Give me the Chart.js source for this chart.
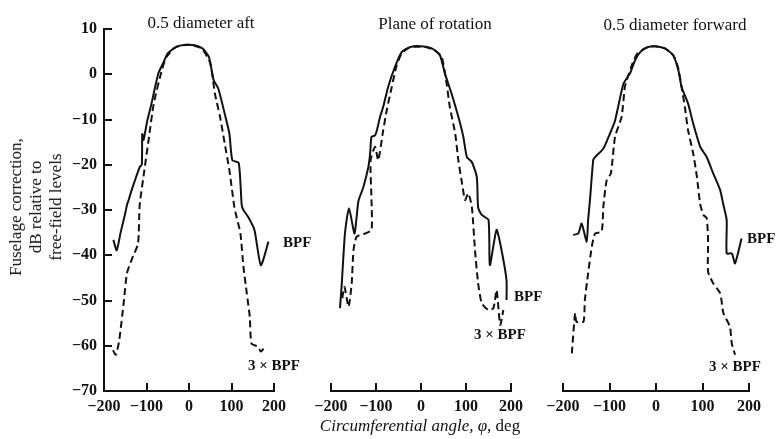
<!DOCTYPE html>
<html><head><meta charset="utf-8">
<script src="https://cdn.jsdelivr.net/npm/chart.js@4.4.1/dist/chart.umd.min.js"></script>
<style>
html,body{margin:0;padding:0;background:#fff;}
#wrap{position:relative;width:779px;height:439px;overflow:hidden;background:#fff;font-family:'Liberation Serif','DejaVu Serif',serif;color:#111;}
canvas{position:absolute;top:0;}
.t{position:absolute;white-space:nowrap;line-height:1;}
.title{font-size:17px;transform:translate(-50%,-50%);}
.ann{font-size:15px;font-weight:bold;transform:translateY(-50%);}
</style></head><body>
<div id="wrap">
<canvas id="c1" width="300" height="439" style="left:0px"></canvas>
<canvas id="c2" width="260" height="439" style="left:290px"></canvas>
<canvas id="c3" width="249" height="439" style="left:530px"></canvas>

<div class="t title" style="left:201px;top:22px">0.5 diameter aft</div>
<div class="t title" style="left:435px;top:23px">Plane of rotation</div>
<div class="t title" style="left:675px;top:24px">0.5 diameter forward</div>

<div class="t ann" style="left:283px;top:242px">BPF</div>
<div class="t ann" style="left:248px;top:365px">3 × BPF</div>
<div class="t ann" style="left:514px;top:296px">BPF</div>
<div class="t ann" style="left:474px;top:334px">3 × BPF</div>
<div class="t ann" style="left:747px;top:238px">BPF</div>
<div class="t ann" style="left:709px;top:366px">3 × BPF</div>

<div class="t" style="left:36px;top:207px;transform:translate(-50%,-50%) rotate(-90deg);font-size:17px;line-height:20px;text-align:center;">Fuselage correction,<br>dB relative to<br>free-field levels</div>
<div class="t" style="left:420px;top:425px;transform:translate(-50%,-50%);font-size:17px;"><i>Circumferential angle,</i> <i>φ</i>, deg</div>
</div>
<script>
// ---- data (angle in deg, correction in dB) ----
const aftBpfAngle = [-178,-170,-161,-150,-146,-142,-135,-116,-111,-110,-107,-98,-90,-72,-61,-50,-31,-9,13,32,47,58,69,84,95,102,117,124,128,139,154,169,187];
const aftBpfDb    = [-36.6,-38.9,-35,-30.7,-28.9,-27.8,-25.6,-20.5,-20,-13.2,-14.5,-10.2,-7.2,0.2,2.4,4.6,6.0,6.5,6.4,5.7,3.8,-1.3,-3.2,-8.7,-13.1,-19,-19.6,-28.9,-30,-31.5,-34.4,-42.2,-37];
const aft3Angle = [-179,-172,-164,-153,-146,-135,-120,-116,-105,-94,-83,-64,-53,-31,0,30,50,61,73,84,95,106,110,121,128,136,143,147,162,169,176];
const aft3Db    = [-61,-62,-58.7,-49.9,-44,-41,-37.4,-28.9,-21.2,-13.8,-6.5,0.9,3.8,6.0,6.5,5.7,2.4,-4.3,-9.4,-15.3,-21.2,-28.9,-30.8,-35.2,-42.5,-48.4,-53.6,-59.5,-60.2,-61.3,-60.6];

const planeBpfAngle = [-180,-176,-169,-160,-148,-143,-139,-128,-117,-113,-110,-102,-98,-91,-84,-73,-58,-43,-24,-2,24,42,53,68,83,94,102,113,124,127,135,150,153,168,179,190,190];
const planeBpfDb    = [-51.7,-46.2,-35.2,-29.6,-35.2,-31.5,-28,-24.9,-20.5,-17.5,-13.8,-13.5,-12.4,-9.4,-7.2,-2.8,1.6,4.9,6.0,6.2,5.7,4.2,0.2,-4.3,-9.4,-13.8,-18.3,-19.4,-22.7,-29.5,-31.1,-32.2,-42.2,-34.4,-38.9,-45.5,-49.9];
const plane3Angle = [-175,-170,-161,-154,-150,-143,-124,-110,-110,-112,-102,-95,-84,-76,-65,-54,-43,-24,9,31,46,57,64,76,83,90,98,105,113,120,127,135,150,161,168,176,183];
const plane3Db    = [-49.5,-47,-51.4,-46.2,-38.9,-35.9,-35.2,-34.4,-27.8,-19,-16,-19,-12.4,-7.9,-2.8,2.0,4.6,6.0,6.0,5.3,3.8,-2.1,-7.2,-13.1,-19,-23.4,-27.8,-26.3,-29.3,-38.9,-46.2,-50.6,-52.1,-51.7,-47.7,-55.4,-52.1];

const fwdBpfAngle = [-178,-167,-160,-149,-146,-142,-135,-131,-113,-99,-88,-70,-56,-45,-34,-20,-2,19,37,48,55,69,80,95,109,123,138,145,152,152,163,170,184];
const fwdBpfDb    = [-35.5,-35.2,-33,-37,-32.2,-27.8,-19,-18.3,-16.4,-13.1,-10.2,-2.1,0.2,3.1,4.9,5.9,6.2,5.7,4.2,0.9,-2.8,-6.5,-10.9,-16,-18.3,-21.9,-25.6,-28.9,-32.2,-39.6,-39.6,-41.8,-36.3];
const fwd3Angle = [-181,-174,-171,-156,-153,-146,-138,-131,-117,-113,-106,-97,-88,-74,-67,-63,-50,-40,-20,-2,19,37,48,55,62,69,80,88,95,102,109,112,112,123,138,145,159,163,170];
const fwd3Db    = [-61.7,-52.8,-54.7,-54.7,-49.9,-44,-38.1,-35.2,-34.8,-29,-23.4,-21.9,-13.8,-9.4,-2.8,-1.3,2.5,4.6,5.9,6.2,5.7,4.2,1.3,-2.8,-7.2,-12.4,-17.5,-22.7,-28.7,-31.1,-31.8,-36.6,-43.6,-46.2,-48.4,-52.8,-55.8,-59.5,-62];

const xTicks = [-200,-100,0,100,200];
const yTicks = [10,0,-10,-20,-30,-40,-50,-60,-70];

function pts(xs, ys){ return xs.map((x,i)=>({x:x, y:ys[i]})); }
function fmt(v){ return v < 0 ? '\u2212' + Math.abs(v) : String(v); }

const INK = '#111';
const tickFont = {family:"'Liberation Serif', serif", size:16, weight:'bold'};

function makeChart(id, solid, dashed, showY, pad){
  new Chart(document.getElementById(id), {
    type:'line',
    data:{datasets:[
      {label:'BPF', data:solid, borderColor:INK, borderWidth:2, pointRadius:0, tension:0.2, fill:false},
      {label:'3 × BPF', data:dashed, borderColor:INK, borderWidth:2, borderDash:[7,4], pointRadius:0, tension:0.2, fill:false}
    ]},
    options:{
      responsive:false, animation:false, devicePixelRatio:1,
      layout:{padding:pad},
      plugins:{legend:{display:false}, tooltip:{enabled:false}},
      scales:{
        x:{type:'linear', min:-200, max:200,
          afterBuildTicks: s => { s.ticks = xTicks.map(v=>({value:v})); },
          ticks:{padding:14, color:INK, font:tickFont, callback:fmt, maxRotation:0, autoSkip:false},
          grid:{drawOnChartArea:false, drawTicks:true, tickLength:-8, color:INK, lineWidth:2},
          border:{display:true, color:INK, width:2},
          afterFit: s => { s.height = 48; }
        },
        y:{type:'linear', min:-70, max:10, display:showY,
          afterBuildTicks: s => { s.ticks = yTicks.map(v=>({value:v})); },
          ticks:{padding:15, color:INK, font:tickFont, callback:fmt, autoSkip:false},
          grid:{drawOnChartArea:false, drawTicks:true, tickLength:-8, color:INK, lineWidth:2},
          border:{display:true, color:INK, width:2},
          afterFit: s => { s.width = showY ? 104 : 0; }
        }
      }
    }
  });
}

makeChart('c1', pts(aftBpfAngle, aftBpfDb), pts(aft3Angle, aft3Db), true, {left:0, right:16, top:29, bottom:0});
makeChart('c2', pts(planeBpfAngle, planeBpfDb), pts(plane3Angle, plane3Db), false, {left:41, right:39, top:29, bottom:0});
makeChart('c3', pts(fwdBpfAngle, fwdBpfDb), pts(fwd3Angle, fwd3Db), false, {left:33, right:30, top:29, bottom:0});
</script>
</body></html>
